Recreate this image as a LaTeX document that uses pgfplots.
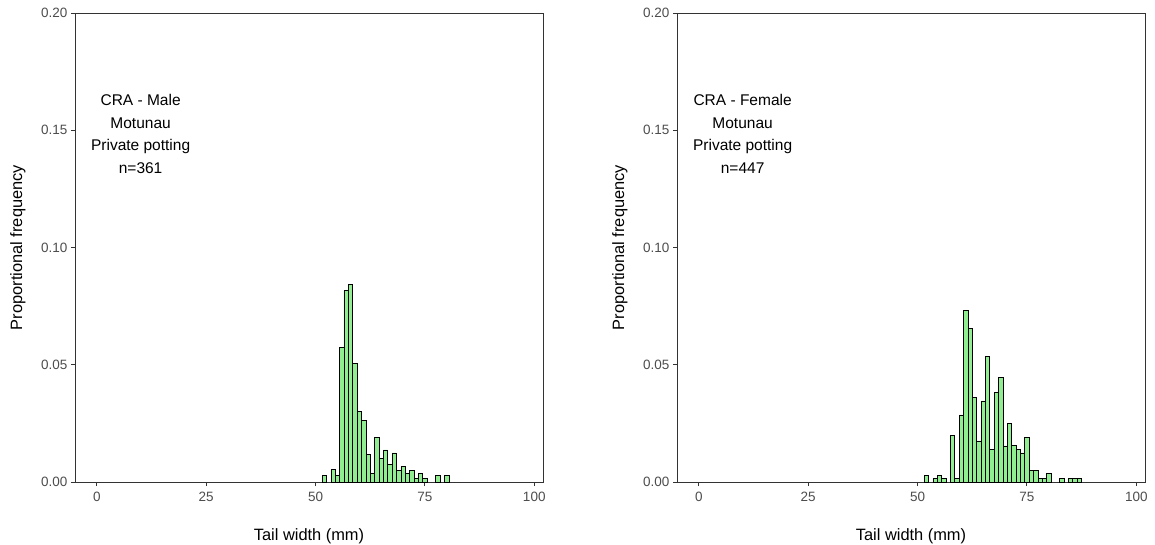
\documentclass[border=0pt]{standalone}
\usepackage{pgfplots}
\pgfplotsset{compat=1.18}
\usepackage{fontspec}
\setmainfont{Liberation Sans}
\definecolor{barfill}{RGB}{144,238,144}
\definecolor{ticklab}{RGB}{77,77,77}
\definecolor{axcol}{RGB}{51,51,51}

\pgfplotstableread{
x y
52 0.0028
54 0.0055
55 0.0028
56 0.0573
57 0.0817
58 0.0844
59 0.0507
60 0.0300
61 0.0264
62 0.0117
63 0.0037
64 0.0190
65 0.0100
66 0.0137
67 0.0074
68 0.0124
69 0.0050
70 0.0066
71 0.0038
72 0.0050
73 0.0014
74 0.0037
75 0.0014
78 0.0027
80 0.0027
}\maledata

\pgfplotstableread{
x y
52 0.0027
54 0.0014
55 0.0027
56 0.0014
58 0.0198
59 0.0014
60 0.0286
61 0.0730
62 0.0656
63 0.0360
64 0.0175
65 0.0346
66 0.0534
67 0.0138
68 0.0383
69 0.0447
70 0.0154
71 0.0249
72 0.0155
73 0.0140
74 0.0124
75 0.0190
76 0.0050
77 0.0050
78 0.0014
79 0.0014
80 0.0037
83 0.0014
85 0.0014
86 0.0014
87 0.0014
}\femaledata

\pgfplotsset{histstyle/.style={
  scale only axis, width=468pt, height=469pt,
  xmin=-5, xmax=102, ymin=0, ymax=0.2,
  xtick={0,25,50,75,100}, xticklabels={0,25,50,75,100},
  ytick={0,0.05,0.1,0.15,0.2}, yticklabels={0.00,0.05,0.10,0.15,0.20},
  /pgf/number format/assume math mode=true,
  tick align=outside, major tick length=4pt,
  tick pos=left,
  axis line style={axcol, line width=0.9pt},
  major tick style={axcol, line width=0.9pt},
  tick label style={font=\fontsize{13.5}{15}\selectfont, text=ticklab},
  xticklabel style={yshift=-3pt},
  xlabel={Tail width (mm)}, ylabel={Proportional frequency},
  label style={font=\fontsize{16.4}{19}\selectfont, text=black},
  xlabel style={at={(axis description cs:0.5,0)}, yshift=-54pt, anchor=center},
  ylabel style={at={(axis description cs:0,0.5)}, yshift=57pt, anchor=center},
  ybar, bar width=1, bar shift=0pt,
  clip=false,
}}

\begin{document}
\begin{tikzpicture}
\useasboundingbox (-75pt,-63pt) rectangle (1080pt,482pt);
\begin{axis}[histstyle, at={(0pt,0pt)}, anchor=south west]
\addplot[fill=barfill, draw=black, line width=0.7pt] table[x=x,y=y] {\maledata};
\node[align=center, font=\fontsize{15.5}{22.5}\selectfont] at (axis cs:10,0.1485) {CRA - Male\\Motunau\\Private potting\\n=361};
\end{axis}
\begin{axis}[histstyle, at={(602pt,0pt)}, anchor=south west]
\addplot[fill=barfill, draw=black, line width=0.7pt] table[x=x,y=y] {\femaledata};
\node[align=center, font=\fontsize{15.5}{22.5}\selectfont] at (axis cs:10,0.1485) {CRA - Female\\Motunau\\Private potting\\n=447};
\end{axis}
\end{tikzpicture}
\end{document}
